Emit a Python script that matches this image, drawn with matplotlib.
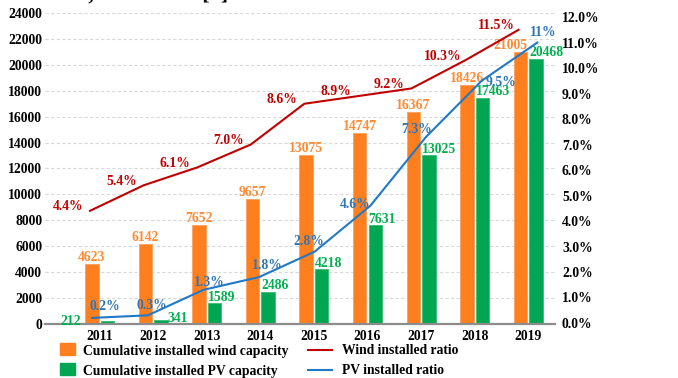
import numpy as np
import matplotlib
matplotlib.use("Agg")
import matplotlib.pyplot as plt
from matplotlib.patches import Rectangle
from matplotlib.lines import Line2D

# Data
years = ["2011", "2012", "2013", "2014", "2015", "2016", "2017", "2018", "2019"]
wind_capacity = [4623, 6142, 7652, 9657, 13075, 14747, 16367, 18426, 21005]
pv_capacity = [212, 341, 1589, 2486, 4218, 7631, 13025, 17463, 20468]
wind_ratio = [4.4, 5.4, 6.1, 7.0, 8.6, 8.9, 9.2, 10.3, 11.5]
pv_ratio = [0.2, 0.3, 1.3, 1.8, 2.8, 4.6, 7.3, 9.5, 11.0]
wind_ratio_labels = ["4.4%", "5.4%", "6.1%", "7.0%", "8.6%", "8.9%", "9.2%", "10.3%", "11.5%"]
pv_ratio_labels = ["0.2%", "0.3%", "1.3%", "1.8%", "2.8%", "4.6%", "7.3%", "9.5%", "11%"]
left_ticks = list(range(0, 24001, 2000))
right_ticks = list(range(0, 13))

# Label placement (offsets in points)
pv_label_offsets = [(9, 8), (3, 7), (4, 5), (6, 8), (-4, 7), (-11, 1), (-7, 5), (14, -1), (4, 7)]

ORANGE = "#FF7F1F"
ORANGE_TXT = "#FF8A33"
GREEN = "#00A651"
GREEN_TXT = "#00B050"
RED = "#C00000"
BLUE = "#1F78C8"
BLUE_TXT = "#2E75B6"

plt.rcParams["font.family"] = ["Liberation Serif", "DejaVu Serif"]
FS = 9.8

W, H = 678, 378
fig = plt.figure(figsize=(W / 100, H / 100), dpi=100)
ax = fig.add_axes([45 / W, 1 - 324 / H, 510 / W, 311 / H])
ax2 = ax.twinx()

x = np.arange(len(years))
bw = 0.25
off = 0.145

ax.bar(x - off, wind_capacity, bw, color=ORANGE, edgecolor="#FFA060", linewidth=0.6, zorder=2)
ax.bar(x + off, pv_capacity, bw, color=GREEN, edgecolor="#33C070", linewidth=0.6, zorder=2)

ax.set_xlim(-1.02, 8.5)
ax.set_ylim(0, 24000)
ax.set_yticks(left_ticks)
ax.set_yticklabels([str(t) for t in left_ticks], fontsize=FS, fontweight="bold")
ax.set_xticks(x)
ax.set_xticklabels(years, fontsize=FS, fontweight="bold")
ax.tick_params(axis="y", length=0, pad=2)
ax.tick_params(axis="x", length=0, pad=4)
ax.grid(axis="y", color="#D9D9D9", linestyle=(0, (3, 2)), linewidth=0.8, zorder=0)
ax.set_axisbelow(True)
for s in ["top", "left", "right"]:
    ax.spines[s].set_visible(False)
ax.spines["bottom"].set_color("#8C8C8C")
ax.spines["bottom"].set_linewidth(1.6)

# Bar value labels
for i, v in enumerate(wind_capacity):
    if i == len(years) - 1:
        ax.annotate(str(v), (x[i] - off + bw / 2, v), xytext=(0, 0), textcoords="offset points",
                    ha="right", va="bottom", color=ORANGE_TXT, fontsize=FS, fontweight="bold")
    else:
        ax.annotate(str(v), (x[i] - off, v), xytext=(0, 0), textcoords="offset points",
                    ha="center", va="bottom", color=ORANGE_TXT, fontsize=FS, fontweight="bold")
for i, v in enumerate(pv_capacity):
    if i == 0:
        ax.annotate(str(v), (x[i] + off - bw / 2, v), xytext=(-14, 0), textcoords="offset points",
                    ha="right", va="center", color=GREEN_TXT, fontsize=FS, fontweight="bold")
    elif i == 1:
        ax.annotate(str(v), (x[i] + off + bw / 2, v), xytext=(0, 1), textcoords="offset points",
                    ha="left", va="center", color=GREEN_TXT, fontsize=FS, fontweight="bold")
    else:
        ax.annotate(str(v), (x[i] + off - bw / 2, v), xytext=(0, -0.5), textcoords="offset points",
                    ha="left", va="bottom", color=GREEN_TXT, fontsize=FS, fontweight="bold")

# Ratio lines on the secondary axis
wind_x = x - 0.18
pv_x = np.linspace(-0.14, 8.17, len(years))
ax2.plot(wind_x, wind_ratio, color=RED, linewidth=1.5, zorder=3)
ax2.plot(pv_x, pv_ratio, color=BLUE, linewidth=1.5, zorder=3)
ax2.set_ylim(-0.04, 12.16)
ax2.set_yticks(right_ticks)
ax2.set_yticklabels([f"{t:.1f}%" for t in right_ticks], fontsize=FS, fontweight="bold")
ax2.tick_params(axis="y", length=0, pad=5)
for s in ["top", "left", "right", "bottom"]:
    ax2.spines[s].set_visible(False)

for xi, v, lab in zip(wind_x, wind_ratio, wind_ratio_labels):
    ax2.annotate(lab, (xi, v), xytext=(-16, 3), textcoords="offset points",
                 ha="center", va="center", color=RED, fontsize=FS, fontweight="bold")
for xi, v, lab, (dx, dy) in zip(pv_x, pv_ratio, pv_ratio_labels, pv_label_offsets):
    ax2.annotate(lab, (xi, v), xytext=(dx, dy), textcoords="offset points",
                 ha="center", va="center", color=BLUE_TXT, fontsize=FS, fontweight="bold")

# Legend drawn in figure pixels
def fx(px):
    return px / W

def fy(py):
    return 1 - py / H

fig.add_artist(Rectangle((fx(60), fy(355)), 15 / W, 12 / H, color=ORANGE, transform=fig.transFigure))
fig.add_artist(Rectangle((fx(60), fy(375)), 15 / W, 12 / H, color=GREEN, transform=fig.transFigure))
fig.add_artist(Line2D([fx(308), fx(332)], [fy(350), fy(350)], color=RED, linewidth=1.5, transform=fig.transFigure))
fig.add_artist(Line2D([fx(308), fx(332)], [fy(370), fy(370)], color=BLUE, linewidth=1.5, transform=fig.transFigure))
fig.text(fx(83), fy(351), "Cumulative installed wind capacity", fontsize=FS, fontweight="bold", va="center", ha="left")
fig.text(fx(83), fy(371), "Cumulative installed PV capacity", fontsize=FS, fontweight="bold", va="center", ha="left")
fig.text(fx(342), fy(351), "Wind installed ratio", fontsize=FS, fontweight="bold", va="center", ha="left")
fig.text(fx(342), fy(371), "PV installed ratio", fontsize=FS, fontweight="bold", va="center", ha="left")

# Preceding caption line
fig.text(fx(234), fy(0), "stores, and hotels [5].", fontsize=16, fontweight="bold",
         ha="right", va="baseline", color="black")

fig.savefig("out.png", dpi=100, facecolor="white")
